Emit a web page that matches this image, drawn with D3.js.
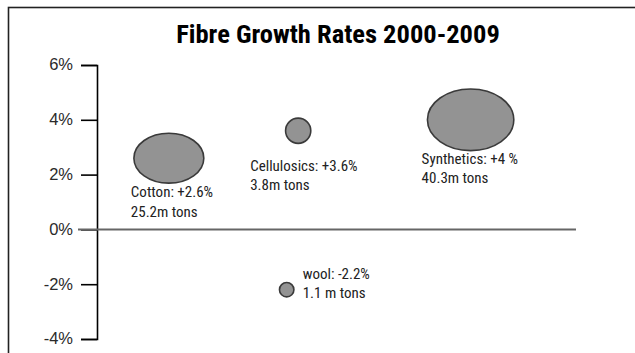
<!DOCTYPE html>
<html>
<head>
<meta charset="utf-8">
<script src="https://cdn.jsdelivr.net/npm/d3@7"></script>
<style>
  html, body { margin: 0; padding: 0; background: #fff; }
  svg { display: block; }
  svg text { font-family: "Roboto Condensed", "Roboto", sans-serif; font-stretch: condensed; }
  svg .tick text { font-family: "Liberation Sans", Arial, sans-serif; font-stretch: normal; }
</style>
</head>
<body>
<svg id="chart" width="635" height="353"></svg>
<script>
// Fibre types and their 2000-2009 average growth (percent per year)
const fibres  = ["Cotton", "Cellulosics", "Synthetics", "wool"];
const growth  = [2.6, 3.6, 4, -2.2];
// Production volume, million tons
const tons    = [25.2, 3.8, 40.3, 1.1];
// Horizontal placement of each bubble (0-100 across the plot)
const slot    = [15, 42, 78, 39.6];
// Y axis ticks
const yTicks  = [-4, -2, 0, 2, 4, 6];
// Spacing quirks in the printed labels
const pctSep  = ["", "", " ", ""];
const tonSep  = ["", "", "", " "];

// Layout (pixels): horizontal stretch of each bubble and label offsets from its centre
const stretch = [1.4, 1, 1.4, 1];
const labelDx = [-38, -48, -49, 16];
const labelDy = [39, 40, 44, -11];

const svg = d3.select("#chart");
const W = 635, H = 353;
const plot = { left: 97, right: 576, top: 65, bottom: 339 };

// Frame around the figure (runs off the right and bottom edges)
svg.append("rect")
  .attr("x", 8.5).attr("y", 7.5)
  .attr("width", W + 20).attr("height", H + 20)
  .attr("fill", "none").attr("stroke", "#222").attr("stroke-width", 1.6);

svg.append("text")
  .attr("x", 338).attr("y", 43)
  .attr("text-anchor", "middle")
  .attr("font-weight", "bold").attr("font-size", 26.5)
  .attr("fill", "#000")
  .text("Fibre Growth Rates 2000-2009");

const y = d3.scaleLinear().domain([-4, 6]).range([plot.bottom, plot.top]);
const x = d3.scaleLinear().domain([0, 100]).range([plot.left, plot.right]);
const r = d3.scalePow().exponent(0.45).domain([0, d3.max(tons)]).range([0, 36.5]);

// Y axis with outer ticks closing the ends
const yAxis = d3.axisLeft(y)
  .tickValues(yTicks)
  .tickSize(16).tickSizeOuter(16).tickPadding(8)
  .tickFormat(d => d + "%");

const ax = svg.append("g")
  .attr("transform", `translate(${plot.left},0)`)
  .call(yAxis);
ax.attr("font-family", null).attr("font-size", null);
ax.select(".domain").attr("stroke", "#000").attr("stroke-width", 1.6);
ax.selectAll(".tick line").attr("stroke", "#000").attr("stroke-width", 1.6);
ax.selectAll(".tick text")
  .attr("font-size", 16.5).attr("fill", "#2a2a2a")
  .attr("dy", "0.3em");

// Zero line
svg.append("line")
  .attr("x1", plot.left - 19).attr("x2", plot.right)
  .attr("y1", y(0)).attr("y2", y(0))
  .attr("stroke", "#666").attr("stroke-width", 2);

const rows = fibres.map((name, i) => ({
  name, g: growth[i], t: tons[i], s: slot[i], k: stretch[i],
  dx: labelDx[i], dy: labelDy[i], ps: pctSep[i], ts: tonSep[i]
}));

const fmtG = v => (v > 0 ? "+" : "-") + Math.abs(v);

const b = svg.append("g").selectAll("g").data(rows).join("g")
  .attr("transform", d => `translate(${x(d.s)},${y(d.g)})`);

b.append("ellipse")
  .attr("rx", d => r(d.t) * Math.sqrt(d.k))
  .attr("ry", d => r(d.t) / Math.sqrt(d.k))
  .attr("fill", "#939393")
  .attr("stroke", "#3a3a3a").attr("stroke-width", 1.6);

const lbl = b.append("text")
  .attr("x", d => d.dx).attr("y", d => d.dy)
  .attr("font-size", 15).attr("fill", "#222");
lbl.append("tspan").text(d => `${d.name}: ${fmtG(d.g)}${d.ps}%`);
lbl.append("tspan")
  .attr("x", d => d.dx).attr("dy", 19.5)
  .text(d => `${d.t}${d.ts}m tons`);
</script>
</body>
</html>
